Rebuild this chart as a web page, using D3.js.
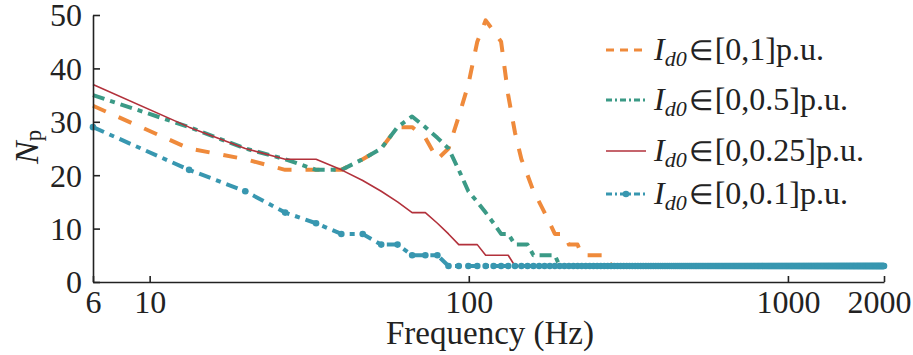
<!DOCTYPE html>
<html><head><meta charset="utf-8">
<script src="https://cdn.jsdelivr.net/npm/d3@7"></script>
<style>body{margin:0;background:#fff} svg{display:block}</style>
</head><body>
<svg id="chart" width="913" height="355"></svg>
<script>
// ---- data ----
const sampleCount = 301;                 // frequency sweep samples up to 2000 Hz
const freqStepHz = 2000 / sampleCount;   // spacing of the sweep samples
const xTickValues = [freqStepHz, 10, 100, 1000, 2000];
const xTickLabels = ["6", "10", "100", "1000", "2000"];
const yTickValues = [0, 10, 20, 30, 40, 50];
const seriesLabels = ["[0,1]p.u.", "[0,0.5]p.u.", "[0,0.25]p.u.", "[0,0.1]p.u."];
// Np at the first sweep samples (k = 1, 2, 3 ...); afterwards Np stays at tailNp up to 2000 Hz
const npRange1   = [33,25,23,21,21,21,23,25,29,29,27,23,25,31,37,45,49,47,45,35,28,23,20,17,15,13,11,9,9,9,7,7,7,5,5,5,5,5,5,5,5,3];
const npRange05  = [35,29,25,23,21,21,23,25,29,31,29,27,25,21,17,15,13,11,9,9,7,7,7,5,5,5,5,5,3];
const npRange025 = [37,29,25,23,23,21,19,17,15,13,13,11,9,7,7,7,5,5,5,5,3];
const npRange01  = [29,21,17,13,11,9,9,7,7,5,5,5,3];
const tailNp = 3;

// ---- chart ----
const svg = d3.select("#chart");
const font = "'Liberation Serif','Times New Roman',serif";
const x = d3.scaleLog().domain([freqStepHz, 2000]).range([93, 884]);
const y = d3.scaleLinear().domain([0, 50]).range([282, 15]);

function fullSeries(vals) {
  const out = vals.slice();
  while (out.length < sampleCount) out.push(tailNp);
  return out.map((v, i) => ({ f: (i + 1) * freqStepHz, v }));
}

const styles = [
  { color: "#EF8A3B", width: 4, dash: "14,14" },
  { color: "#3B9A86", width: 4, dash: "12,6,5,6" },
  { color: "#B2313B", width: 1.6, dash: null },
  { color: "#3897B0", width: 4, dash: "12,6,5,6", markers: true }
];
const allSeries = [npRange1, npRange05, npRange025, npRange01].map(fullSeries);

const line = d3.line().x(d => x(d.f)).y(d => y(d.v));

allSeries.forEach((s, i) => {
  const st = styles[i];
  svg.append("path").datum(s)
    .attr("d", line)
    .attr("fill", "none")
    .attr("stroke", st.color)
    .attr("stroke-width", st.width)
    .attr("stroke-dasharray", st.dash)
    .attr("stroke-linejoin", "round");
  if (st.markers) {
    svg.append("g").selectAll("circle").data(s).join("circle")
      .attr("cx", d => x(d.f)).attr("cy", d => y(d.v)).attr("r", 3.3)
      .attr("fill", st.color);
  }
});

// axes
const yAxis = svg.append("g").attr("transform", "translate(93,0)")
  .call(d3.axisLeft(y).tickValues(yTickValues).tickSize(-7).tickSizeOuter(0).tickPadding(11));
const xAxis = svg.append("g").attr("transform", "translate(0,282)")
  .call(d3.axisBottom(x).tickValues(xTickValues).tickFormat((d, i) => xTickLabels[i])
    .tickSize(-6).tickSizeOuter(0).tickPadding(8));
[yAxis, xAxis].forEach(g => {
  g.selectAll("path, line").attr("stroke", "#222").attr("stroke-width", 1.6);
  g.selectAll("text").attr("font-family", font).attr("font-size", 32).attr("fill", "#222");
});
yAxis.selectAll(".tick text").attr("dy", "0.34em");
xAxis.selectAll(".tick text").filter((d, i) => i === xTickValues.length - 1)
  .attr("text-anchor", "end").attr("dx", 27);

// axis titles
svg.append("text").attr("x", 490).attr("y", 344).attr("text-anchor", "middle")
  .attr("font-family", font).attr("font-size", 33).attr("fill", "#222").text("Frequency (Hz)");
const yl = svg.append("text").attr("transform", "translate(38,164) rotate(-90)")
  .attr("font-family", font).attr("font-size", 34).attr("fill", "#222");
yl.append("tspan").attr("font-style", "italic").text("N");
yl.append("tspan").attr("font-size", 23).attr("dy", 3).text("p");

// legend
const legY = [50, 100, 151, 194];
seriesLabels.forEach((lab, i) => {
  const st = styles[i];
  const g = svg.append("g");
  g.append("line").attr("x1", 606).attr("x2", 646).attr("y1", legY[i]).attr("y2", legY[i])
    .attr("stroke", st.color).attr("stroke-width", i === 2 ? 1.6 : 3)
    .attr("stroke-dasharray", i === 0 ? "8,6" : (i === 2 ? null : "6,3,2,3"));
  if (st.markers) g.append("circle").attr("cx", 626).attr("cy", legY[i]).attr("r", 3.3).attr("fill", st.color);
  const t = g.append("text").attr("x", 654).attr("y", legY[i] + 10)
    .attr("font-family", font).attr("font-size", 32).attr("fill", "#222");
  t.append("tspan").attr("font-style", "italic").text("I");
  t.append("tspan").attr("font-style", "italic").attr("font-size", 22).attr("dy", 6).text("d0");
  t.append("tspan").attr("dy", -6).attr("dx", 2)
    .attr("font-family", "'DejaVu Sans',sans-serif").attr("font-weight", 300).attr("font-size", 28).text("\u2208");
  t.append("tspan").attr("dx", 2).text(lab);
});
</script>
</body></html>
